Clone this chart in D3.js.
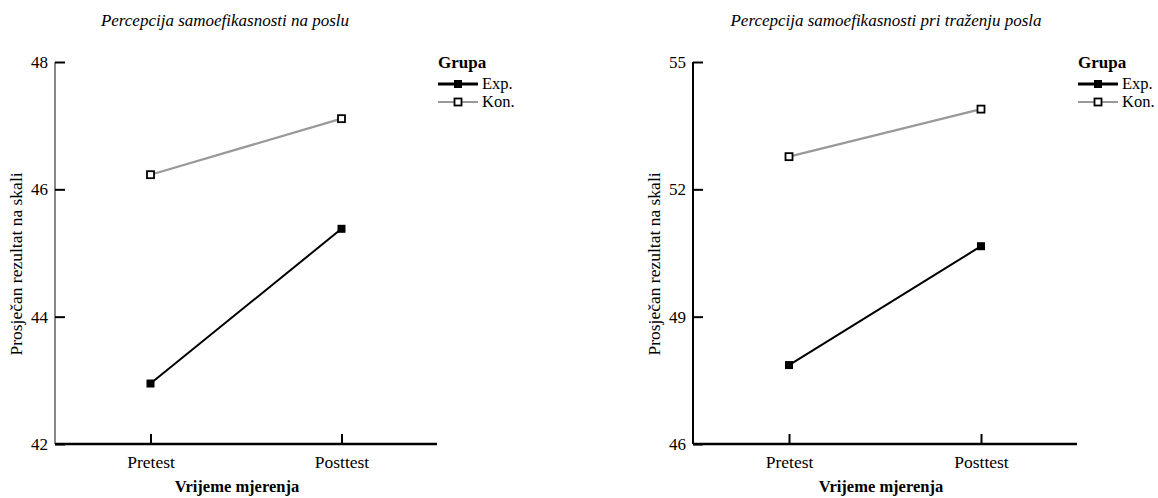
<!DOCTYPE html>
<html><head><meta charset="utf-8">
<script src="https://cdn.jsdelivr.net/npm/d3@7"></script>
<style>body{margin:0;background:#fff}svg{display:block}svg text{font-family:"Liberation Serif","Times New Roman",serif !important;fill:#000}</style>
</head><body>
<svg id="c" width="1158" height="498"></svg>
<script>
const categories = ["Pretest", "Posttest"];
const seriesNames = ["Exp.", "Kon."];
const titles = ["Percepcija samoefikasnosti na poslu", "Percepcija samoefikasnosti pri traženju posla"];
const leftExp = [42.95, 45.38];
const leftKon = [46.23, 47.11];
const rightExp = [47.86, 50.66];
const rightKon = [52.77, 53.89];
const leftTicks = [42, 44, 46, 48];
const rightTicks = [46, 49, 52, 55];
const yLabel = "Prosječan rezultat na skali";
const xLabel = "Vrijeme mjerenja";
const legendTitle = "Grupa";

const svg = d3.select("#c");
const panels = [
  {x0: 55, x1: 437, title: titles[0], titleX: 225, xLabelX: 237, exp: leftExp, kon: leftKon, ticks: leftTicks, yAxisColor: "#888"},
  {x0: 693, x1: 1077, title: titles[1], titleX: 886, xLabelX: 881, exp: rightExp, kon: rightKon, ticks: rightTicks, yAxisColor: "#000"}
];
const yTop = 62, yBot = 444;
panels.forEach(p => {
  const g = svg.append("g");
  const x = d3.scalePoint().domain(categories).range([p.x0, p.x1]).padding(0.5);
  const y = d3.scaleLinear().domain([p.ticks[0], p.ticks[p.ticks.length-1]]).range([yBot, yTop]);
  g.append("text").attr("x", p.titleX).attr("y", 26).attr("text-anchor", "middle")
    .style("font-style", "italic").style("font-size", "17px").text(p.title);
  // y axis
  const ya = g.append("g").attr("transform", `translate(${p.x0},0)`)
    .call(d3.axisLeft(y).tickValues(p.ticks).tickSize(-10).tickPadding(7).tickFormat(d3.format("d")));
  ya.select(".domain").attr("stroke", p.yAxisColor).attr("stroke-width", 2).attr("d", `M0,${yBot}V${yTop}`);
  ya.selectAll(".tick line").attr("stroke", "#000").attr("stroke-width", 2);
  ya.selectAll(".tick text").style("font-size", "17px");
  // x axis
  const xa = g.append("g").attr("transform", `translate(0,${yBot})`)
    .call(d3.axisBottom(x).tickSize(-10).tickPadding(12));
  xa.select(".domain").attr("stroke", "#000").attr("stroke-width", 2.5).attr("d", `M${p.x0},0H${p.x1}`);
  xa.selectAll(".tick line").attr("stroke", "#000").attr("stroke-width", 2);
  xa.selectAll(".tick text").style("font-size", "17.5px");
  // axis labels
  g.append("text").attr("x", p.xLabelX).attr("y", 492).attr("text-anchor", "middle")
    .style("font-weight", "bold").style("font-size", "16.5px").text(xLabel);
  g.append("text").attr("transform", `translate(${p.x0 - 33},264) rotate(-90)`).attr("text-anchor", "middle")
    .style("font-size", "17.5px").text(yLabel);
  // lines
  const line = d3.line().x((d, i) => x(categories[i])).y(d => y(d));
  g.append("path").datum(p.kon).attr("d", line).attr("fill", "none").attr("stroke", "#999").attr("stroke-width", 2.2);
  g.append("path").datum(p.exp).attr("d", line).attr("fill", "none").attr("stroke", "#000").attr("stroke-width", 2);
  g.selectAll(".mk").data(p.kon).enter().append("rect")
    .attr("x", (d, i) => x(categories[i]) - 3.5).attr("y", d => y(d) - 3.5).attr("width", 7).attr("height", 7)
    .attr("fill", "#fff").attr("stroke", "#000").attr("stroke-width", 1.8);
  g.selectAll(".me").data(p.exp).enter().append("rect")
    .attr("x", (d, i) => x(categories[i]) - 4).attr("y", d => y(d) - 4).attr("width", 8).attr("height", 8)
    .attr("fill", "#000");
  // legend
  const lx = p.x1 + 1;
  g.append("text").attr("x", lx).attr("y", 68).style("font-weight", "bold").style("font-size", "17px").text(legendTitle);
  const lc = ["#000", "#999"];
  seriesNames.forEach((s, i) => {
    const ly = 84 + i * 18;
    g.append("line").attr("x1", lx).attr("x2", lx + 40).attr("y1", ly).attr("y2", ly)
      .attr("stroke", lc[i]).attr("stroke-width", i === 0 ? 3 : 2.2);
    if (i === 0) g.append("rect").attr("x", lx + 16).attr("y", ly - 4).attr("width", 8).attr("height", 8).attr("fill", "#000");
    else g.append("rect").attr("x", lx + 16.5).attr("y", ly - 3.5).attr("width", 7).attr("height", 7).attr("fill", "#fff").attr("stroke", "#000").attr("stroke-width", 1.8);
    g.append("text").attr("x", lx + 44).attr("y", ly + 5).style("font-size", "16.5px").text(s);
  });
});
</script>
</body></html>
